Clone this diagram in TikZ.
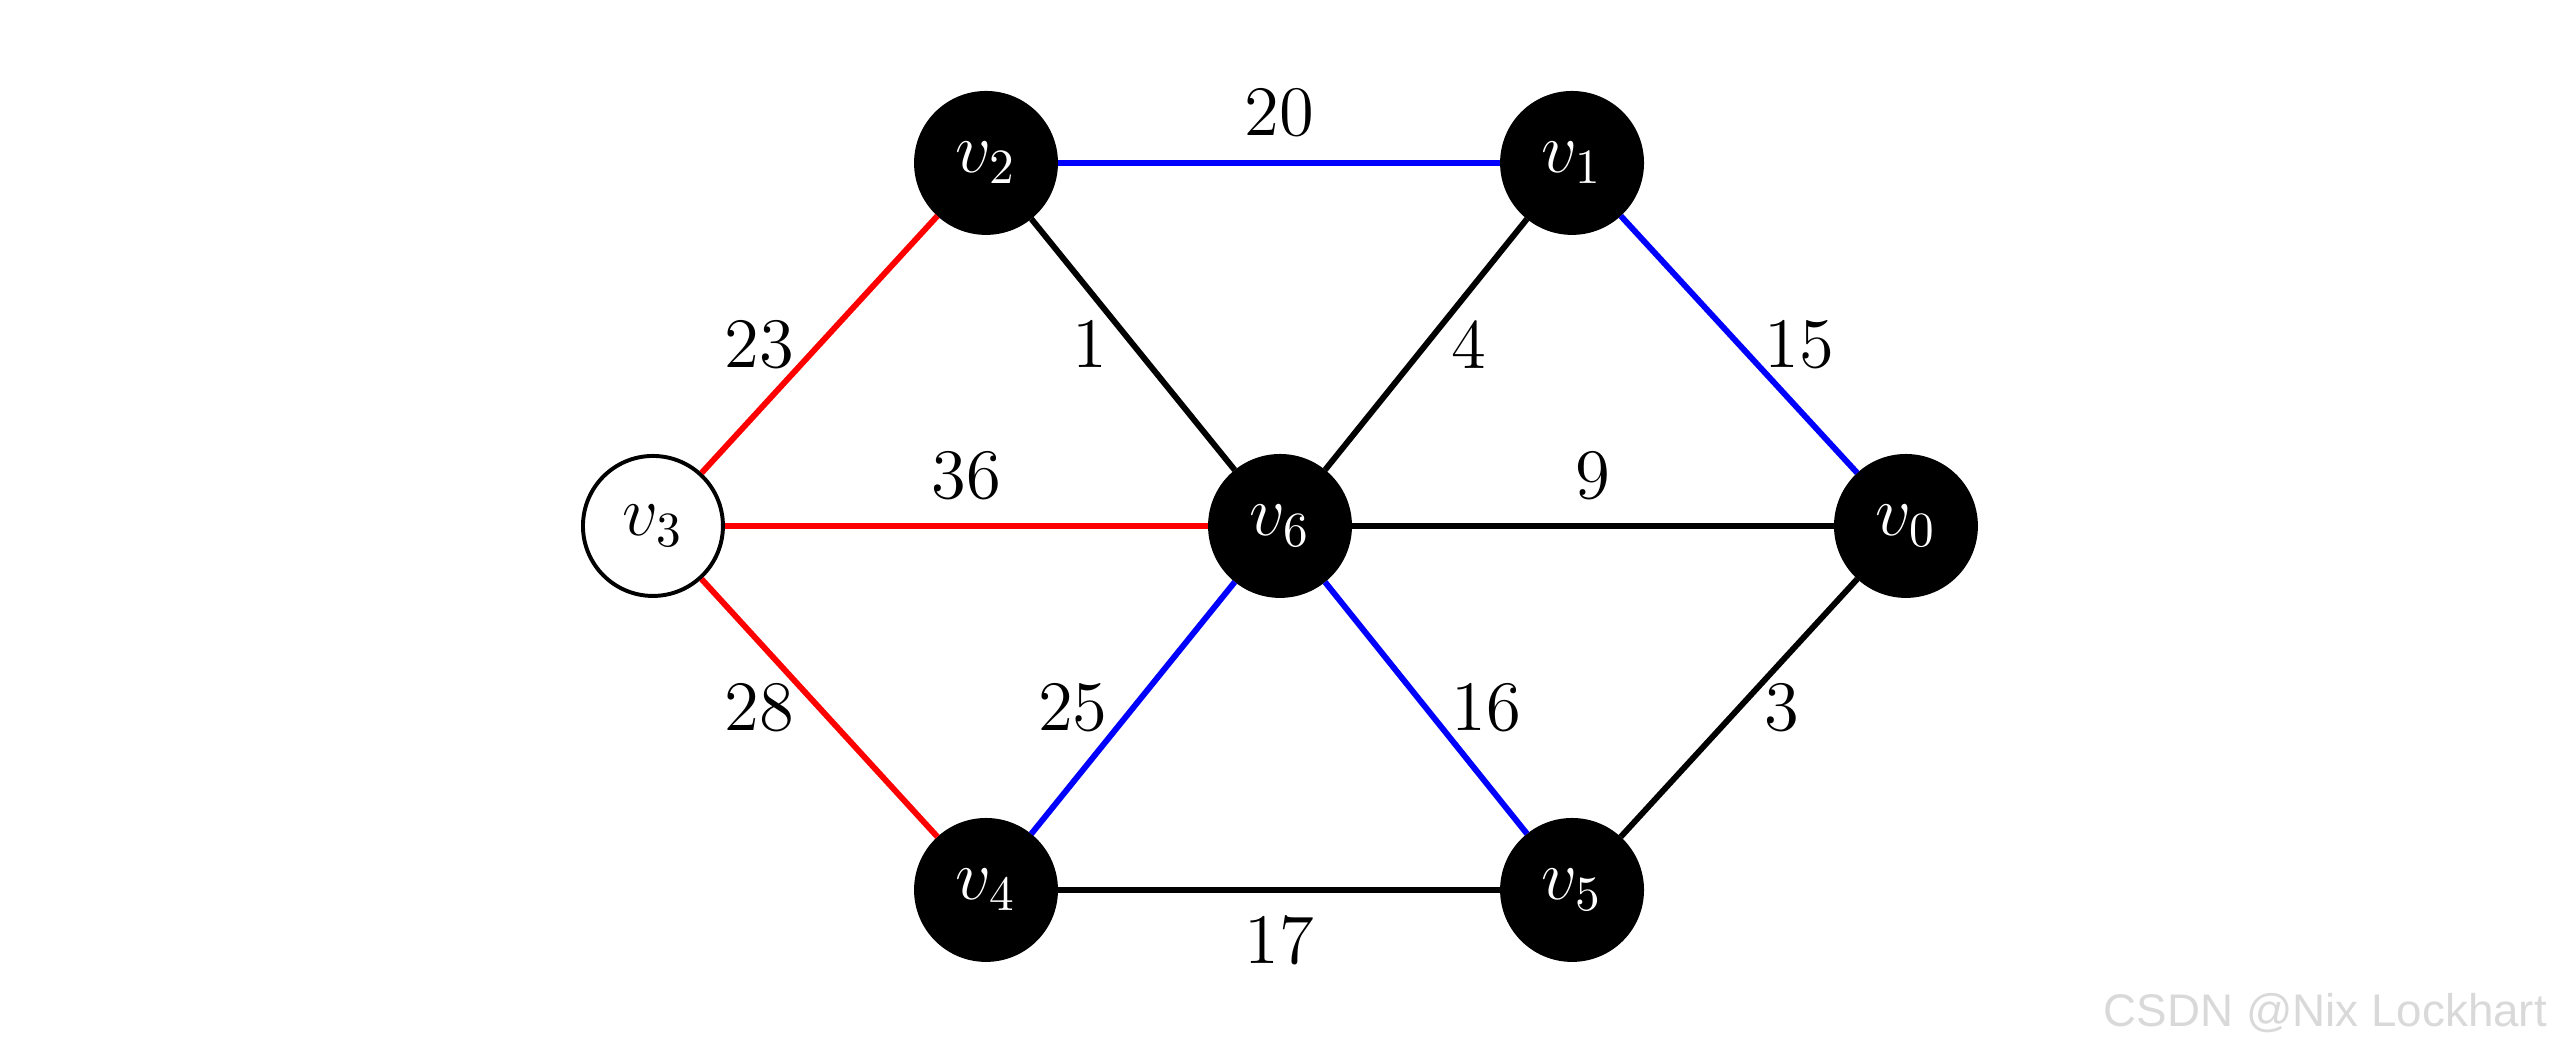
\documentclass[tikz,border=0pt]{standalone}
\usepackage{amsmath, amssymb}
\usepackage{fontspec}
\newfontfamily\markfont{Liberation Sans}
\usetikzlibrary{positioning}

\begin{document}
\begin{tikzpicture}[
	vtx/.style={circle, draw, thick, fill=black, text=white, minimum size=1cm, inner sep=0pt, font=\Large},
	vtxw/.style={vtx, fill=white, text=black},
	edge/.style={line width=1.2pt},
	wt/.style={font=\Large, inner sep=4.6pt}
]
	\useasboundingbox (0,0) rectangle (18.286,7.521);

	% Vertices
	\node[vtxw] (v3) at (4.664,3.764) {$v_3$};
	\node[vtx] (v6) at (9.143,3.764) {$v_6$};
	\node[vtx] (v0) at (13.614,3.764) {$v_0$};
	\node[vtx] (v2) at (7.043,6.357) {$v_2$};
	\node[vtx] (v1) at (11.229,6.357) {$v_1$};
	\node[vtx] (v4) at (7.043,1.164) {$v_4$};
	\node[vtx] (v5) at (11.229,1.164) {$v_5$};

	% Edges from v3 (red)
	\draw[edge, red] (v3) -- node[wt, left, text=black] {23} (v2);
	\draw[edge, red] (v3) -- node[wt, above, text=black] {36} (v6);
	\draw[edge, red] (v3) -- node[wt, left, text=black] {28} (v4);

	% Blue edges
	\draw[edge, blue] (v2) -- node[wt, above, text=black] {20} (v1);
	\draw[edge, blue] (v1) -- node[wt, right, text=black] {15} (v0);
	\draw[edge, blue] (v4) -- node[wt, left, text=black] {25} (v6);
	\draw[edge, blue] (v6) -- node[wt, right, text=black] {16} (v5);

	% Other edges
	\draw[edge] (v2) -- node[wt, left] {1} (v6);
	\draw[edge] (v6) -- node[wt, right] {4} (v1);
	\draw[edge] (v6) -- node[wt, above] {9} (v0);
	\draw[edge] (v5) -- node[wt, right] {3} (v0);
	\draw[edge] (v4) -- node[wt, below] {17} (v5);

	% Watermark
	\node[anchor=base east, inner sep=0pt, text=black!15, font=\markfont\fontsize{9.3}{11}\selectfont] (mark) at (18.2,0.186) {CSDN @Nix Lockhart};
\end{tikzpicture}
\end{document}
